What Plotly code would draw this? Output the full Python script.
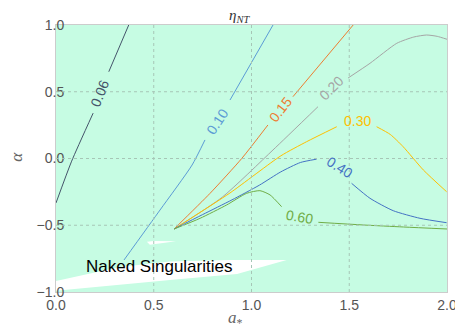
import plotly.graph_objects as go

# contour levels of eta_NT, each as (a_*, alpha) points; None marks the gap under the label
levels = ["0.06", "0.10", "0.15", "0.20", "0.30", "0.40", "0.60"]
colors = ["#44546A", "#5B9BD5", "#ED7D31", "#A5A5A5", "#FFC000", "#4472C4", "#70AD47"]

a_006 = [0.0, 0.08, 0.19, None, 0.27, 0.372]
al_006 = [-0.333, -0.02, 0.34, None, 0.65, 1.0]

a_010 = [0.348, 0.532, 0.696, 0.762, None, 0.89, 1.11]
al_010 = [-0.76, -0.386, -0.049, 0.139, None, 0.438, 1.0]

a_015 = [0.604, 0.788, 0.95, 1.084, None, 1.212, 1.52]
al_015 = [-0.528, -0.261, 0.0, 0.251, None, 0.463, 1.0]

a_020 = [0.604, 0.85, 1.11, 1.34, None, 1.494, 1.606, 1.743, 1.83, 1.896, 1.95, 2.0]
al_020 = [-0.528, -0.29, 0.064, 0.388, None, 0.603, 0.713, 0.863, 0.91, 0.925, 0.915, 0.893]

a_030 = [0.604, 0.89, 1.15, 1.282, 1.436, None, 1.64, 1.71, 1.776, 1.879, 1.998]
al_030 = [-0.528, -0.258, 0.02, 0.126, 0.238, None, 0.238, 0.18, 0.088, -0.086, -0.249]

a_040 = [0.604, 0.75, 0.9, 1.04, 1.15, 1.25, 1.333, None, 1.512, 1.606, 1.725, 1.862, 1.998]
al_040 = [-0.528, -0.42, -0.31, -0.2, -0.1, -0.03, -0.005, None, -0.186, -0.298, -0.391, -0.448, -0.481]

a_060 = [0.604, 0.737, 0.873, 0.975, 1.043, 1.095, 1.154, None, 1.342, 1.572, 1.777, 2.0]
al_060 = [-0.528, -0.448, -0.348, -0.261, -0.241, -0.273, -0.361, None, -0.478, -0.498, -0.513, -0.528]

contour_a = [a_006, a_010, a_015, a_020, a_030, a_040, a_060]
contour_al = [al_006, al_010, al_015, al_020, al_030, al_040, al_060]

# label positions and angles
label_a = [0.225, 0.824, 1.146, 1.41, 1.541, 1.449, 1.248]
label_al = [0.49, 0.273, 0.363, 0.526, 0.283, -0.066, -0.436]
label_angle = [-68, -57, -52, -45, 0, 32, 10]

# naked singularity regions (white)
ns_a = [0.0, 0.138, 0.327, 0.583, 0.89, 1.18, 0.926, 0.583, 0.0]
ns_al = [-0.918, -0.873, -0.813, -0.772, -0.76, -0.76, -0.865, -0.91, -0.99]
sliver_a = [0.465, 0.5, 0.614, 0.55, 0.48, 0.465]
sliver_al = [-0.624, -0.618, -0.62, -0.635, -0.646, -0.624]

fig = go.Figure()

for xs, ys in [(ns_a, ns_al), (sliver_a, sliver_al)]:
    fig.add_trace(go.Scatter(x=xs, y=ys, mode="lines", fill="toself",
                             fillcolor="white", line=dict(width=0),
                             hoverinfo="skip", showlegend=False))

for xs, ys, c in zip(contour_a, contour_al, colors):
    fig.add_trace(go.Scatter(x=xs, y=ys, mode="lines",
                             line=dict(color=c, width=1, shape="spline", smoothing=0.6),
                             connectgaps=False, showlegend=False))

for txt, x, y, ang, c in zip(levels, label_a, label_al, label_angle, colors):
    fig.add_annotation(x=x, y=y, text=txt, showarrow=False, textangle=ang,
                       xanchor="center", yanchor="middle",
                       font=dict(family="Liberation Sans, Arial", size=14, color=c))

fig.add_annotation(x=0.529, y=-0.811, text="Naked Singularities", showarrow=False,
                   xanchor="center", yanchor="middle",
                   font=dict(family="Liberation Sans, Arial", size=17, color="black"))

# dotted grid drawn over the regions
grid_style = dict(color="#a6c6b6", width=1, dash="dot")
for gx in [0.5, 1.0, 1.5]:
    fig.add_shape(type="line", x0=gx, x1=gx, y0=-1, y1=1, xref="x", yref="y",
                  line=grid_style, layer="above")
for gy in [-0.5, 0.0, 0.5]:
    fig.add_shape(type="line", x0=0, x1=2, y0=gy, y1=gy, xref="x", yref="y",
                  line=grid_style, layer="above")

serif = "Liberation Serif, Times New Roman"
fig.add_annotation(xref="paper", yref="paper", x=0.47, y=1.034,
                   xanchor="center", yanchor="middle",
                   text="<i>η</i><sub><i>NT</i></sub>", showarrow=False,
                   font=dict(family=serif, size=15, color="#333333"))
fig.add_annotation(xref="paper", yref="paper", x=0.46, y=-0.1,
                   xanchor="center", yanchor="middle",
                   text="<i>a</i><sub>*</sub>", showarrow=False,
                   font=dict(family=serif, size=17, color="#666666"))
fig.add_annotation(xref="paper", yref="paper", x=-0.1, y=0.506, textangle=-90,
                   xanchor="center", yanchor="middle",
                   text="<i>α</i>", showarrow=False,
                   font=dict(family=serif, size=17, color="#666666"))

axis_common = dict(showgrid=False, zeroline=False, showline=True, mirror=True,
                   linecolor="#cccccc", linewidth=1, tickformat=".1f", dtick=0.5,
                   tickfont=dict(family="Liberation Sans, Arial", size=14, color="#555555"),
                   ticks="", automargin=False)
fig.update_xaxes(range=[0, 2], tick0=0, **axis_common)
fig.update_yaxes(range=[-1, 1], tick0=-1, ticklabelstandoff=-12, **axis_common)

# page body adds an 8px offset, so the figure is sized to leave it room
fig.update_layout(width=455, height=327, margin=dict(l=48, r=16, t=17, b=43),
                  plot_bgcolor="#c6fce3", paper_bgcolor="white")

fig.write_html("out.html")
